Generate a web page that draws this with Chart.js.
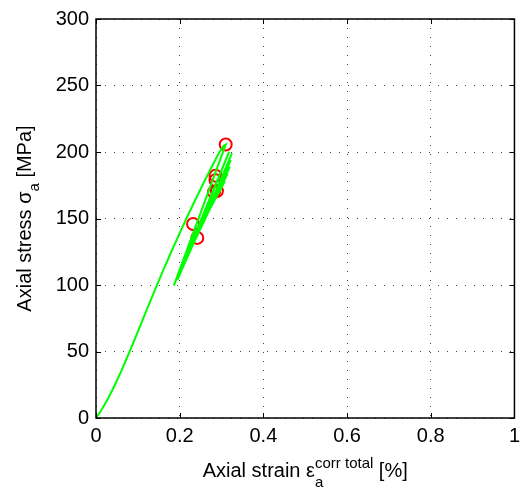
<!DOCTYPE html>
<html>
<head>
<meta charset="utf-8">
<script src="https://cdn.jsdelivr.net/npm/chart.js@4"></script>
<style>
  html, body { margin: 0; padding: 0; background: #fff; }
  canvas { display: block; }
</style>
</head>
<body>
<canvas id="strainChart" width="526" height="494"></canvas>
<script>
// green test curve: monotonic loading, then unload/reload cycles
const strain = [0, 0.01, 0.02, 0.03, 0.04, 0.05, 0.06, 0.07, 0.08, 0.09, 0.10, 0.11, 0.12, 0.13, 0.14,
  0.16, 0.18, 0.20, 0.22, 0.24, 0.26, 0.28, 0.295, 0.305, 0.31,
  0.186, 0.318, 0.195, 0.325, 0.203, 0.322, 0.210, 0.320, 0.216, 0.315, 0.222, 0.308, 0.228, 0.300];
const stress = [0, 4.5, 9.7, 15.4, 21.6, 28.2, 35.1, 42.3, 49.7, 57.3, 65, 72.7, 80.4, 88, 95.6,
  110.6, 125, 139, 152.6, 165.8, 178.6, 191, 200, 204.5, 205.5,
  99.5, 200, 104, 199, 110, 194, 116, 189, 122, 184, 128, 178, 133, 173];

// red circle markers
const markStrain = [0.310, 0.2856, 0.2856, 0.289, 0.282, 0.232, 0.242];
const markStress = [205.6, 182.2, 178.8, 170.6, 169.8, 145.9, 135.4];

const xTicks = [0, 0.2, 0.4, 0.6, 0.8, 1];
const yTicks = [0, 50, 100, 150, 200, 250, 300];

const FONT = "'Liberation Sans', Arial, Helvetica, sans-serif";

const curve = strain.map((x, i) => ({ x: x, y: stress[i] }));
const marks = markStrain.map((x, i) => ({ x: x, y: markStress[i] }));

// frame with inward ticks on all four sides
const frame = {
  id: "frame",
  afterDatasetsDraw(chart) {
    const { ctx, chartArea: a, scales } = chart;
    ctx.save();
    ctx.strokeStyle = "#000";
    ctx.lineWidth = 1;
    ctx.beginPath();
    xTicks.forEach(v => {
      const px = Math.round(scales.x.getPixelForValue(v)) + 0.5;
      ctx.moveTo(px, a.bottom); ctx.lineTo(px, a.bottom - 5);
      ctx.moveTo(px, a.top); ctx.lineTo(px, a.top + 5);
    });
    yTicks.forEach(v => {
      const py = Math.round(scales.y.getPixelForValue(v)) + 0.5;
      ctx.moveTo(a.left, py); ctx.lineTo(a.left + 5, py);
      ctx.moveTo(a.right, py); ctx.lineTo(a.right - 5, py);
    });
    ctx.stroke();
    ctx.lineWidth = 1.5;
    ctx.strokeRect(a.left, a.top, a.right - a.left, a.bottom - a.top);
    ctx.restore();
  }
};

// parts: [text, size, dy, sameStartAsPrevious]
function drawParts(ctx, parts, cx, cy) {
  const widths = parts.map(p => {
    ctx.font = p[1] + "px " + FONT;
    return ctx.measureText(p[0]).width;
  });
  let x = 0, lastStart = 0, lastW = 0;
  const pos = [];
  parts.forEach((p, i) => {
    if (p[3]) {
      pos[i] = lastStart;
      lastW = Math.max(lastW, widths[i]);
      x = lastStart + lastW;
    } else {
      pos[i] = x;
      lastStart = x;
      lastW = widths[i];
      x += widths[i];
    }
  });
  parts.forEach((p, i) => {
    ctx.font = p[1] + "px " + FONT;
    ctx.fillText(p[0], cx - x / 2 + pos[i], cy + p[2]);
  });
}

const titles = {
  id: "titles",
  afterDraw(chart) {
    const { ctx, chartArea: a } = chart;
    ctx.save();
    ctx.fillStyle = "#000";
    ctx.textBaseline = "alphabetic";
    ctx.textAlign = "left";
    drawParts(ctx, [
      ["Axial strain \u03b5", 20, 0],
      ["a", 15, 10],
      ["corr total", 15, -9, true],
      [" [%]", 20, 0]
    ], (a.left + a.right) / 2, 477);
    ctx.translate(31, (a.top + a.bottom) / 2);
    ctx.rotate(-Math.PI / 2);
    drawParts(ctx, [
      ["Axial stress \u03c3", 20, 0],
      ["a", 15, 8],
      [" [MPa]", 20, 0]
    ], 0, 0);
    ctx.restore();
  }
};

const chart = new Chart(document.getElementById("strainChart").getContext("2d"), {
  type: "scatter",
  data: {
    datasets: [
      {
        data: curve,
        showLine: true,
        borderColor: "#00ff00",
        borderWidth: 2,
        pointRadius: 0,
        tension: 0
      },
      {
        data: marks,
        showLine: false,
        pointRadius: 6,
        pointBorderWidth: 2,
        borderColor: "#ff0000",
        backgroundColor: "rgba(0,0,0,0)"
      }
    ]
  },
  options: {
    responsive: false,
    animation: false,
    devicePixelRatio: 1,
    layout: { padding: { top: 17, right: 8, left: 0, bottom: 0 } },
    plugins: { legend: { display: false }, tooltip: { enabled: false } },
    scales: {
      x: {
        type: "linear",
        min: 0,
        max: 1,
        afterFit: s => { s.height = 76; },
        afterBuildTicks: s => { s.ticks = xTicks.map(v => ({ value: v })); },
        ticks: {
          color: "#000",
          padding: 6,
          font: { family: FONT, size: 20 },
          callback: v => String(v)
        },
        grid: { color: "#444", drawTicks: false, lineWidth: 1 },
        border: { display: false, dash: [1, 8] }
      },
      y: {
        type: "linear",
        min: 0,
        max: 300,
        afterFit: s => { s.width = 96; },
        afterBuildTicks: s => { s.ticks = yTicks.map(v => ({ value: v })); },
        ticks: {
          color: "#000",
          padding: 7,
          font: { family: FONT, size: 20 },
          callback: v => String(v)
        },
        grid: { color: "#444", drawTicks: false, lineWidth: 1 },
        border: { display: false, dash: [1, 8] }
      }
    }
  },
  plugins: [frame, titles]
});
</script>
</body>
</html>
